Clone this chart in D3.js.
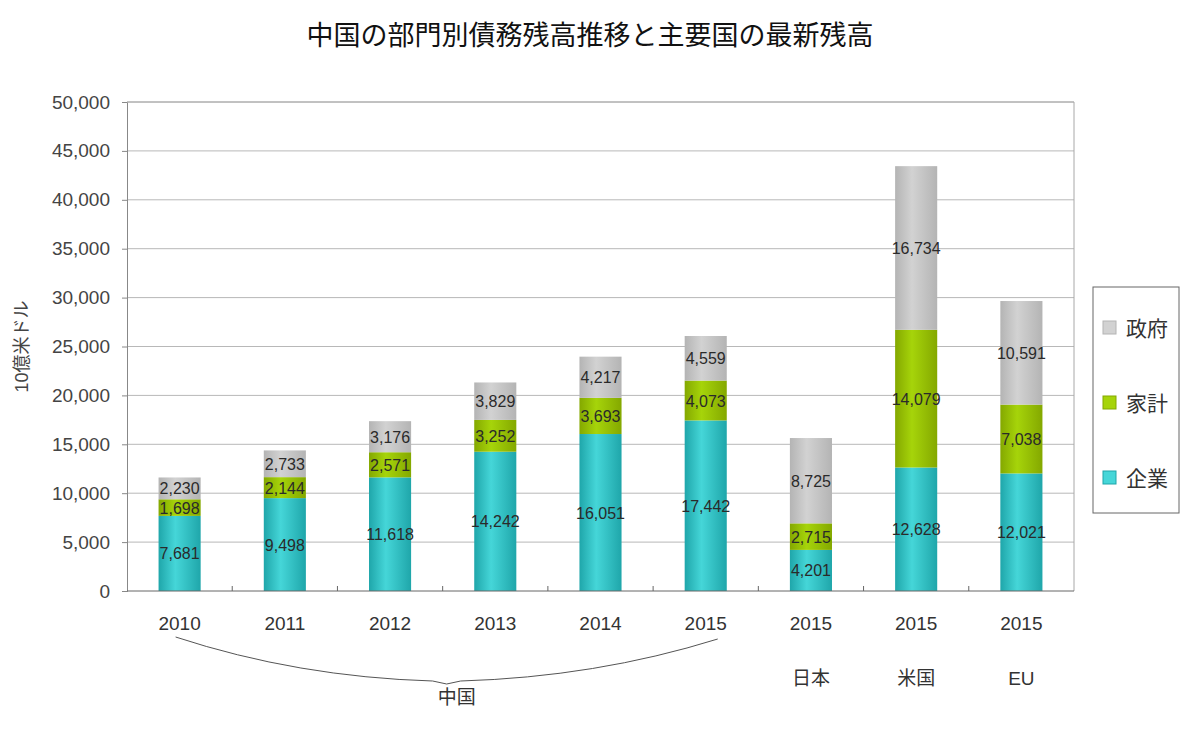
<!DOCTYPE html>
<html>
<head>
<meta charset="utf-8">
<script src="https://cdn.jsdelivr.net/npm/d3@7.9.0/dist/d3.min.js"></script>
<style>
  body { margin: 0; background: #fff; }
  svg text { font-family: "Liberation Sans", Arial, "Noto Sans CJK JP", sans-serif; }
</style>
</head>
<body>
<svg id="chart" width="1200" height="735"></svg>
<script>
// data
const years = ['2010', '2011', '2012', '2013', '2014', '2015', '2015', '2015', '2015'];
const countries = ['', '', '', '', '', '', '日本', '米国', 'EU'];
const corporate = [7681, 9498, 11618, 14242, 16051, 17442, 4201, 12628, 12021];
const household = [1698, 2144, 2571, 3252, 3693, 4073, 2715, 14079, 7038];
const government = [2230, 2733, 3176, 3829, 4217, 4559, 8725, 16734, 10591];
const seriesNames = ['企業', '家計', '政府'];
const yTicks = [0, 5000, 10000, 15000, 20000, 25000, 30000, 35000, 40000, 45000, 50000];

const colors = {
  '企業': ['#1fa6aa', '#45d6d8'],
  '家計': ['#84a800', '#a6d40a'],
  '政府': ['#b4b4b4', '#d2d2d2']
};

const svg = d3.select('#chart');
const margin = { top: 102, right: 126, bottom: 144, left: 127 };
const width = 1200 - margin.left - margin.right;
const height = 735 - margin.top - margin.bottom;

// gradients for the cylinder look
const defs = svg.append('defs');
seriesNames.forEach((name, i) => {
  const g = defs.append('linearGradient').attr('id', 'grad' + i)
    .attr('x1', '0%').attr('x2', '100%').attr('y1', '0%').attr('y2', '0%');
  g.append('stop').attr('offset', '0%').attr('stop-color', colors[name][0]);
  g.append('stop').attr('offset', '40%').attr('stop-color', colors[name][1]);
  g.append('stop').attr('offset', '100%').attr('stop-color', colors[name][0]);
});

const rows = years.map((y, i) => ({
  idx: i,
  '企業': corporate[i],
  '家計': household[i],
  '政府': government[i]
}));

const x = d3.scaleBand().domain(rows.map(d => d.idx)).range([0, width])
  .paddingInner(0.6).paddingOuter(0.3);
const y = d3.scaleLinear().domain([0, 50000]).range([height, 0]);

const g = svg.append('g').attr('transform', `translate(${margin.left},${margin.top})`);

// title
svg.append('text')
  .attr('x', 590).attr('y', 45)
  .attr('text-anchor', 'middle')
  .style('font-family', '"Noto Sans CJK JP", sans-serif')
  .style('font-size', '27px')
  .attr('fill', '#111')
  .text('中国の部門別債務残高推移と主要国の最新残高');

// gridlines
g.selectAll('.grid').data(yTicks.slice(1))
  .join('line')
  .attr('x1', 0).attr('x2', width)
  .attr('y1', d => y(d)).attr('y2', d => y(d))
  .attr('stroke', '#b8b8b8').attr('stroke-width', 1);

// right border
g.append('line').attr('x1', width).attr('x2', width).attr('y1', 0).attr('y2', height)
  .attr('stroke', '#a8a8a8');

// bars
const stack = d3.stack().keys(seriesNames)(rows);
stack.forEach((layer, si) => {
  const grp = g.append('g');
  grp.selectAll('rect').data(layer).join('rect')
    .attr('x', d => x(d.data.idx))
    .attr('width', x.bandwidth())
    .attr('y', d => y(d[1]))
    .attr('height', d => y(d[0]) - y(d[1]))
    .attr('fill', `url(#grad${si})`);
  grp.selectAll('text').data(layer).join('text')
    .attr('x', d => x(d.data.idx) + x.bandwidth() / 2)
    .attr('y', d => (y(d[0]) + y(d[1])) / 2 + 6)
    .attr('text-anchor', 'middle')
    .style('font-size', '16px')
    .attr('fill', '#2a2a2a')
    .text(d => d3.format(',')(d.data[layer.key]));
});

// y axis
const yAxis = g.append('g')
  .call(d3.axisLeft(y).tickValues(yTicks).tickFormat(d3.format(',')).tickSize(5).tickPadding(12));
yAxis.select('.domain').attr('stroke', '#888');
yAxis.selectAll('.tick line').attr('stroke', '#888');
yAxis.selectAll('.tick text').style('font-size', '19px').attr('fill', '#444');
yAxis.select('.tick:last-of-type line').attr('x2', 0);

// top border
g.append('line').attr('x1', 0).attr('x2', width).attr('y1', 0).attr('y2', 0)
  .attr('stroke', '#a8a8a8');

// x axis line and inner ticks at band boundaries
g.append('line').attr('x1', 0).attr('x2', width).attr('y1', height).attr('y2', height)
  .attr('stroke', '#666');
const step = x.step();
g.selectAll('.xtick').data(d3.range(1, years.length))
  .join('line')
  .attr('x1', d => d * step).attr('x2', d => d * step)
  .attr('y1', height).attr('y2', height - 5)
  .attr('stroke', '#666');

// x labels
g.selectAll('.year').data(rows).join('text')
  .attr('x', d => x(d.idx) + x.bandwidth() / 2)
  .attr('y', height + 39)
  .attr('text-anchor', 'middle')
  .style('font-size', '19px')
  .attr('fill', '#333')
  .text(d => years[d.idx]);

g.selectAll('.country').data(rows.filter(d => countries[d.idx]))
  .join('text')
  .attr('x', d => x(d.idx) + x.bandwidth() / 2)
  .attr('y', height + 94)
  .attr('text-anchor', 'middle')
  .style('font-size', '19px')
  .attr('fill', '#333')
  .text(d => countries[d.idx]);

// brace under China years
const bx0 = x(0) + x.bandwidth() / 2 - 4;
const bx1 = x(5) + x.bandwidth() / 2 + 12;
const bm = (bx0 + bx1) / 2;
const by = height + 46;
const brace = d3.path();
brace.moveTo(bx0, by);
brace.quadraticCurveTo(bx0 + (bm - bx0) * 0.45, by + 40, bm - 14, by + 44);
brace.lineTo(bm, by + 47);
brace.lineTo(bm + 14, by + 44);
brace.quadraticCurveTo(bx1 - (bx1 - bm) * 0.45, by + 40, bx1, by + 2);
g.append('path').attr('d', brace.toString())
  .attr('fill', 'none').attr('stroke', '#555').attr('stroke-width', 1);

g.append('text')
  .attr('x', bm + 10).attr('y', height + 113)
  .attr('text-anchor', 'middle')
  .style('font-size', '19px')
  .attr('fill', '#333')
  .text('中国');

// y axis title
svg.append('text')
  .attr('transform', `translate(28,${margin.top + height / 2}) rotate(-90)`)
  .attr('text-anchor', 'middle')
  .style('font-size', '18px')
  .attr('fill', '#444')
  .text('10億米ドル');

// legend
const lg = svg.append('g').attr('transform', 'translate(1093,287)');
lg.append('rect').attr('width', 86).attr('height', 226)
  .attr('fill', '#fff').attr('stroke', '#666');
const legendItems = ['政府', '家計', '企業'];
legendItems.forEach((name, i) => {
  const row = lg.append('g').attr('transform', `translate(10,${41 + i * 75})`);
  row.append('rect').attr('x', 0).attr('y', -7).attr('width', 13).attr('height', 13)
    .attr('fill', colors[name][1]).attr('stroke', colors[name][0]);
  row.append('text').attr('x', 23).attr('y', 8)
    .style('font-size', '21px').attr('fill', '#333')
    .text(name);
});
</script>
</body>
</html>
